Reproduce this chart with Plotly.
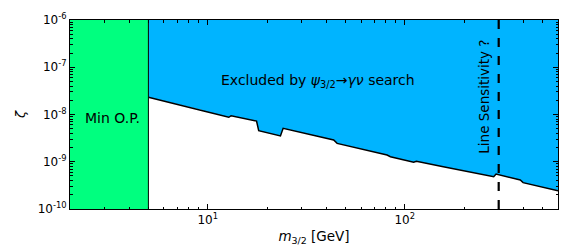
import plotly.graph_objects as go
import numpy as np

# Exclusion boundary (m_3/2 in GeV, zeta)
bound_m = [5.0, 9.37, 9.54, 12.8, 13.15, 17.7, 18.15, 23.4, 24.15, 43.6, 45.4,
           81.4, 84.6, 111.0, 114.7, 157.0, 215.6, 283.0, 291.0, 386.0, 399.0, 600.0]
bound_zeta = [2.31e-8, 1.245e-8, 1.186e-8, 8.72e-9, 9.44e-9, 7.28e-9, 4.54e-9, 3.51e-9,
              5.1e-9, 2.88e-9, 2.45e-9, 1.39e-9, 1.28e-9, 9.73e-10, 1.02e-9, 7.85e-10,
              6.07e-10, 4.83e-10, 5.5e-10, 4.11e-10, 3.61e-10, 2.44e-10]

x_min, x_max = 2.0, 600.0
y_min, y_max = 1e-10, 1e-6
min_op_mass = 5.0
line_sens_mass = 300.0

x_ticks = [10, 100]
x_ticktext = ["10<sup>1</sup>", "10<sup>2</sup>"]
y_ticks = [1e-10, 1e-9, 1e-8, 1e-7, 1e-6]
y_ticktext = ["10<sup>-10</sup>", "10<sup>-9</sup>", "10<sup>-8</sup>", "10<sup>-7</sup>", "10<sup>-6</sup>"]

x_minor = [m * 10**e for e in range(0, 3) for m in range(2, 10) if x_min <= m * 10**e <= x_max]
y_minor = [m * 10.0**e for e in range(-10, -6) for m in range(2, 10)]

BLUE = "#00B4FF"
GREEN = "#00FF7F"
FONT = "DejaVu Sans"

fig = go.Figure()

# Blue excluded region
fig.add_trace(go.Scatter(
    x=bound_m + [bound_m[-1], bound_m[0]],
    y=bound_zeta + [y_max, y_max],
    fill="toself", fillcolor=BLUE, mode="none", hoverinfo="skip", showlegend=False))

# Boundary line
fig.add_trace(go.Scatter(x=bound_m, y=bound_zeta, mode="lines",
                         line=dict(color="black", width=1.5), showlegend=False))

# Green Min O.P. region
fig.add_trace(go.Scatter(
    x=[x_min, min_op_mass, min_op_mass, x_min, x_min],
    y=[y_min, y_min, y_max, y_max, y_min],
    fill="toself", fillcolor=GREEN, mode="none", hoverinfo="skip", showlegend=False))
fig.add_trace(go.Scatter(x=[min_op_mass, min_op_mass], y=[y_min, y_max], mode="lines",
                         line=dict(color="black", width=1), showlegend=False))

# Dashed line sensitivity
fig.add_trace(go.Scatter(x=[line_sens_mass, line_sens_mass], y=[y_min, y_max], mode="lines",
                         line=dict(color="black", width=2.2, dash="dash"), showlegend=False))

fig.add_annotation(x=np.log10(3.28), y=-8.07, text="Min O.P.", showarrow=False,
                   font=dict(family=FONT, size=14, color="black"))
fig.add_annotation(x=np.log10(36.5), y=-7.3,
                   text="Excluded by <i>ψ</i><sub>3/2</sub>→<i>γν</i> search", showarrow=False,
                   font=dict(family=FONT, size=14, color="black"))
fig.add_annotation(x=np.log10(250), y=-7.62, text="Line Sensitivity ?", showarrow=False,
                   textangle=-90, font=dict(family=FONT, size=13.5, color="black"))

axis_common = dict(type="log", showline=True, linecolor="black", linewidth=1, mirror="allticks",
                   ticks="inside", ticklen=5, tickcolor="black", showgrid=False, zeroline=False,
                   tickfont=dict(family=FONT, size=12, color="black"))

fig.update_xaxes(range=[np.log10(x_min), np.log10(x_max)], tickmode="array",
                 tickvals=x_ticks, ticktext=x_ticktext,
                 minor=dict(tickmode="array", tickvals=x_minor, ticks="inside", ticklen=2.5,
                            tickcolor="black", showgrid=False),
                 title=dict(text="<i>m</i><sub>3/2</sub> [GeV]", standoff=5,
                            font=dict(family=FONT, size=13.5, color="black")),
                 **axis_common)
fig.update_yaxes(range=[np.log10(y_min), np.log10(y_max)], tickmode="array",
                 tickvals=y_ticks, ticktext=y_ticktext,
                 minor=dict(tickmode="array", tickvals=y_minor, ticks="inside", ticklen=2.5,
                            tickcolor="black", showgrid=False),
                 title=dict(text="<i>ζ</i>", standoff=9,
                            font=dict(family=FONT, size=13, color="black")),
                 **axis_common)

# page body has an 8px margin; size the figure so the plot area lands where the reference has it
fig.update_layout(width=573, height=241, margin=dict(l=62, r=23, t=12, b=40, autoexpand=False),
                  plot_bgcolor="white", paper_bgcolor="white", showlegend=False)

fig.write_html("out.html")
